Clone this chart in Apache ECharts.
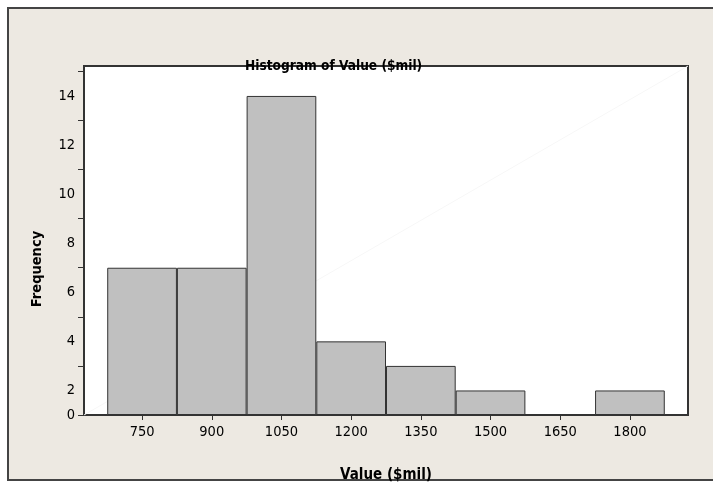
<!DOCTYPE html>
<html>
<head>
<meta charset="utf-8">
<title>Histogram of Value ($mil)</title>
<script src="https://cdn.jsdelivr.net/npm/echarts@6/dist/echarts.min.js"></script>
<style>
  html, body { margin: 0; padding: 0; background: #fff; }
  #frame {
    position: absolute; left: 7px; top: 7px; width: 712px; height: 470px;
    background: #ede9e2; border: 2px solid #444; border-right: none;
  }
  #chart { position: absolute; left: 0; top: 0; width: 713px; height: 483px; }
</style>
</head>
<body>
<div id="frame"></div>
<div id="chart"></div>
<script>
// bin midpoints and frequencies
const binCenters = [750, 900, 1050, 1200, 1350, 1500, 1650, 1800]
const frequency = [7, 7, 14, 4, 3, 2, 1, 2]
const binWidth = 150

// y axis as printed: ticks sit on odd values, labels on even ones, "0" on the baseline
const yTickValues = [1, 3, 5, 7, 9, 11, 13, 15]
const yLabelValues = [1, 2, 4, 6, 8, 10, 12, 14]
const yLabelTexts = ['0', '2', '4', '6', '8', '10', '12', '14']

const xMin = 625
const xMax = 1925
const yMin = 1
const yMax = 15.22

const font = '"DejaVu Sans Condensed", "DejaVu Sans", sans-serif'
const gridLeft = 84
const gridWidth = 604

const chart = echarts.init(document.getElementById('chart'), null, { renderer: 'canvas' })

chart.setOption({
  animation: false,
  backgroundColor: 'transparent',
  title: {
    text: 'Histogram of Value ($mil)',
    left: 245,
    top: 59,
    padding: 0,
    textStyle: { fontFamily: font, fontSize: 13.6, fontWeight: 'bold', color: '#000' },
  },
  graphic: [{
    type: 'text',
    x: 37,
    y: 269,
    rotation: Math.PI / 2,
    style: {
      text: 'Frequency',
      fill: '#000',
      font: 'bold 14.5px ' + font,
      align: 'center',
      verticalAlign: 'middle',
    },
  }],
  grid: {
    left: gridLeft,
    top: 66,
    width: gridWidth,
    height: 349,
    show: true,
    backgroundColor: '#fff',
    borderColor: '#333',
    borderWidth: 2,
    outerBoundsMode: 'none',
  },
  xAxis: {
    type: 'value',
    min: xMin,
    max: xMax,
    name: 'Value ($mil)',
    nameLocation: 'middle',
    nameGap: 53,
    nameTextStyle: { fontFamily: font, fontSize: 15, fontWeight: 'bold', color: '#000' },
    axisLine: { show: false },
    splitLine: { show: false },
    axisTick: { customValues: binCenters, length: 5, lineStyle: { color: '#333' } },
    axisLabel: {
      customValues: binCenters,
      formatter: v => String(v),
      margin: 10,
      fontFamily: font,
      fontSize: 14.5,
      color: '#000',
    },
  },
  yAxis: {
    type: 'value',
    min: yMin,
    max: yMax,
    startValue: yMin,
    axisLine: { show: false },
    splitLine: { show: false },
    axisTick: { customValues: yTickValues, length: 6, lineStyle: { color: '#333' } },
    axisLabel: {
      customValues: yLabelValues,
      formatter: v => yLabelTexts[yLabelValues.indexOf(v)] ?? '',
      margin: 9,
      fontFamily: font,
      fontSize: 14.5,
      color: '#000',
    },
  },
  series: [
    {
      // faint diagonal across the plot area
      type: 'line',
      data: [[xMin, yMin], [xMax, yMax]],
      symbol: 'none',
      silent: true,
      z: 1,
      lineStyle: { color: '#f7f7f7', width: 1 },
    },
    {
      type: 'bar',
      data: binCenters.map((c, i) => [c, frequency[i]]),
      barWidth: binWidth / (xMax - xMin) * gridWidth,
      z: 2,
      itemStyle: { color: '#c0c0c0', borderColor: '#333', borderWidth: 1 },
    },
  ],
})
</script>
</body>
</html>
